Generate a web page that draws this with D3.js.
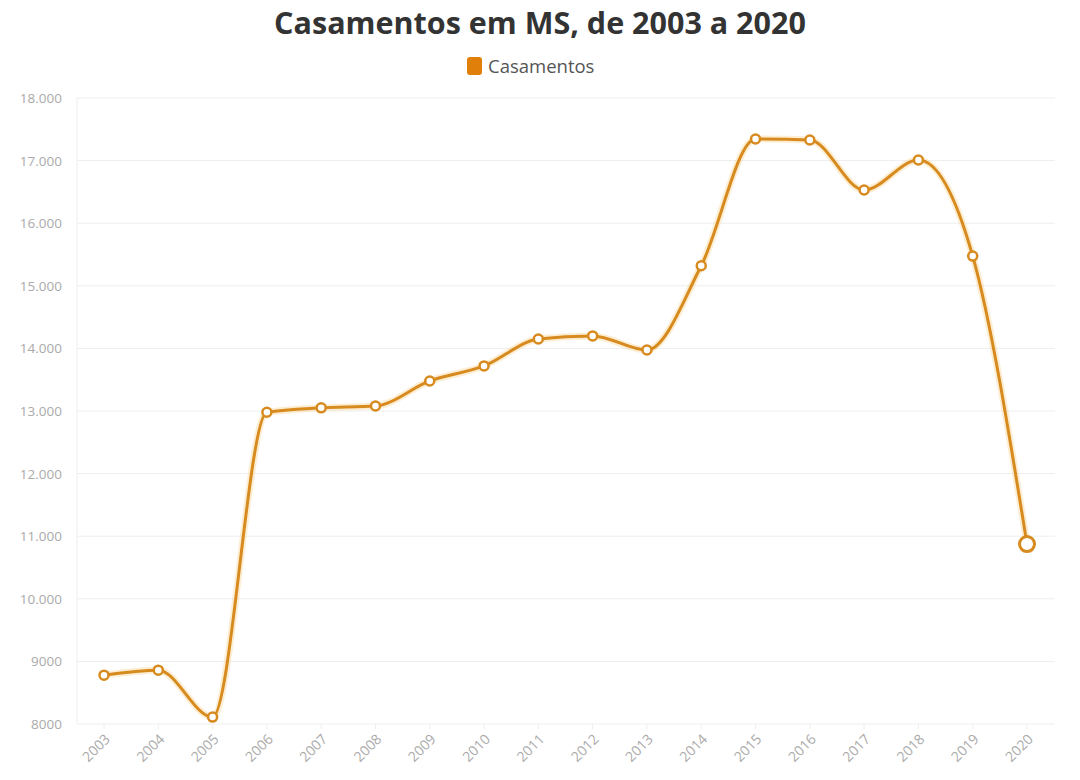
<!DOCTYPE html>
<html>
<head>
<meta charset="utf-8">
<script src="https://cdn.jsdelivr.net/npm/d3@7/dist/d3.min.js"></script>
<style>
  html, body { margin: 0; padding: 0; background: #fff; }
  svg { display: block; }
</style>
</head>
<body>
<svg id="chart" width="1080" height="780"></svg>
<script>
const years = ["2003","2004","2005","2006","2007","2008","2009","2010","2011","2012","2013","2014","2015","2016","2017","2018","2019","2020"];
const casamentos = [8780, 8860, 8110, 12980, 13050, 13080, 13480, 13720, 14150, 14200, 13975, 15320, 17345, 17330, 16530, 17010, 15475, 10875];
const yTicks = [8000, 9000, 10000, 11000, 12000, 13000, 14000, 15000, 16000, 17000, 18000];
const yTickLabels = ["8000", "9000", "10.000", "11.000", "12.000", "13.000", "14.000", "15.000", "16.000", "17.000", "18.000"];
const titleText = "Casamentos em MS, de 2003 a 2020";
const seriesName = "Casamentos";

const color = "#d78a1e";
const svg = d3.select("#chart");
const margin = {left: 77, right: 1055, top: 98, bottom: 724};

const x = d3.scalePoint().domain(years).range([104, 1027]);
const y = d3.scaleLinear().domain([8000, 18000]).range([margin.bottom, margin.top]);

// title
svg.append("text")
  .attr("x", 540).attr("y", 34)
  .attr("text-anchor", "middle")
  .attr("font-family", "'Open Sans', 'Noto Sans', sans-serif")
  .attr("font-weight", "bold")
  .attr("font-size", 30.5)
  .attr("fill", "#333")
  .text(titleText);

// legend
const lg = svg.append("g");
lg.append("rect").attr("x", 467).attr("y", 57).attr("width", 15).attr("height", 18)
  .attr("rx", 3).attr("fill", "#e07f0a");
lg.append("text").attr("x", 488).attr("y", 73)
  .attr("font-family", "'Open Sans', 'Noto Sans', sans-serif")
  .attr("font-size", 18.5).attr("fill", "#555").text(seriesName);

// gridlines
svg.append("g").selectAll("line").data(yTicks).join("line")
  .attr("x1", margin.left).attr("x2", margin.right)
  .attr("y1", d => y(d)).attr("y2", d => y(d))
  .attr("stroke", "#eeeeee").attr("stroke-width", 1);

// left axis line
svg.append("line").attr("x1", margin.left).attr("x2", margin.left)
  .attr("y1", margin.top).attr("y2", margin.bottom)
  .attr("stroke", "#eeeeee");

// y labels
svg.append("g").selectAll("text").data(yTicks).join("text")
  .attr("x", 62).attr("y", d => y(d) + 5)
  .attr("text-anchor", "end")
  .attr("font-family", "'Open Sans', 'Noto Sans', sans-serif")
  .attr("font-size", 13.5).attr("fill", "#aaaaaa")
  .text((d, i) => yTickLabels[i]);

// x ticks
svg.append("g").selectAll("line").data(years).join("line")
  .attr("x1", d => x(d)).attr("x2", d => x(d))
  .attr("y1", margin.bottom).attr("y2", margin.bottom + 5)
  .attr("stroke", "#eeeeee");

// x labels
svg.append("g").selectAll("text").data(years).join("text")
  .attr("transform", d => `translate(${x(d) + 7},${740}) rotate(-45)`)
  .attr("text-anchor", "end")
  .attr("font-family", "'Open Sans', 'Noto Sans', sans-serif")
  .attr("font-size", 14).attr("fill", "#aaaaaa")
  .text(d => d);

// line
const data = years.map((yr, i) => ({yr, v: casamentos[i]}));
const line = d3.line().x(d => x(d.yr)).y(d => y(d.v)).curve(d3.curveMonotoneX);

svg.append("path").datum(data)
  .attr("d", line).attr("fill", "none")
  .attr("stroke", "#f7c46a").attr("stroke-opacity", 0.3).attr("stroke-width", 7);
svg.append("path").datum(data)
  .attr("d", line).attr("fill", "none")
  .attr("stroke", color).attr("stroke-width", 3);

// markers
svg.append("g").selectAll("circle").data(data).join("circle")
  .attr("cx", d => x(d.yr)).attr("cy", d => y(d.v))
  .attr("r", (d, i) => i === data.length - 1 ? 7.5 : 4.5)
  .attr("fill", "#fff").attr("stroke", color)
  .attr("stroke-width", (d, i) => i === data.length - 1 ? 3 : 2.5);
</script>
</body>
</html>
